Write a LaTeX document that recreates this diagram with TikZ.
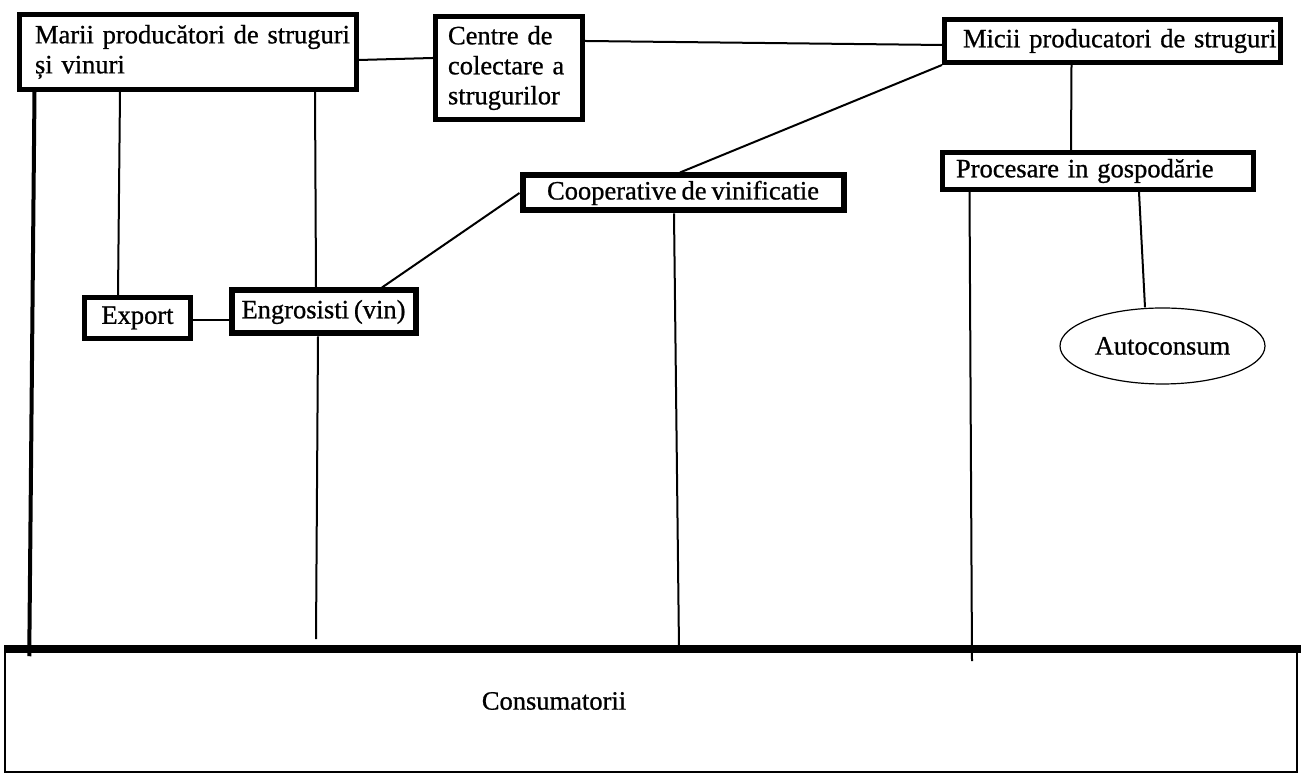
\documentclass[tikz,border=0pt]{standalone}
\usepackage{fontspec}
\setmainfont[FakeBold=0.8, WordSpace=0.75]{Liberation Serif}
\usetikzlibrary{shapes.geometric}
\begin{document}
\begin{tikzpicture}[x=1pt,y=1pt,
  every node/.style={font=\fontsize{26.5}{30}\selectfont},
  box/.style={draw, line width=5pt, rectangle, inner ysep=0pt, inner xsep=0pt},
  leftbox/.style={box, align=left},
  conn/.style={line width=2pt},
  thickconn/.style={line width=4pt}]
\useasboundingbox (0,0) rectangle (1301,775);
\fill[white] (0,0) rectangle (1301,775);

% boxes
\node[leftbox, minimum width=337pt, minimum height=75pt, inner xsep=15.5pt, text width=306pt] (marii) at (188,723)
  {\mbox{Marii producători de struguri}\\și vinuri};
\node[leftbox, minimum width=147pt, minimum height=103pt, inner xsep=12.5pt, text width=122pt] (centre) at (509,707)
  {Centre de\\colectare a\\strugurilor};
\node[leftbox, minimum width=336pt, minimum height=43pt, inner xsep=18.5pt, text width=299pt] (micii) at (1112.5,734)
  {\mbox{Micii producatori de struguri}};
\node[leftbox, minimum width=311pt, minimum height=37pt, inner xsep=13.5pt, text width=284pt] (proc) at (1098,604)
  {Procesare in gospodărie};
\node[box, line width=6pt, minimum width=321pt, minimum height=35pt] (coop) at (683,582)
  {Cooperative de vinificatie};
\node[box, minimum width=106pt, minimum height=41pt] (export) at (137.5,457) {Export};
\node[box, line width=6pt, minimum width=184pt, minimum height=43pt] (engros) at (323.5,463) {Engrosisti (vin)};
\node[draw, ellipse, line width=1.2pt, inner sep=0pt, minimum width=205pt, minimum height=76pt] (auto) at (1162.5,429) {Autoconsum};

% consumers
\node[draw, rectangle, line width=1.5pt, minimum width=1292pt, minimum height=122pt, inner sep=0pt] (cons) at (651,64) {};
\node (constext) at (554,74) {Consumatorii};
\draw[line width=8pt] (cons.north west) -- ([xshift=4pt]cons.north east);

% connectors
\draw[conn] ([yshift=-8pt]marii.east) -- ([yshift=10pt]centre.west);
\draw[conn] ([yshift=27pt]centre.east) -- ([yshift=-4pt]micii.west);
\draw[conn] (micii.south west) -- ([xshift=-3pt]coop.north);
\draw[conn] ([xshift=-41pt]micii.south) -- ([xshift=-27pt]proc.north);
\draw[conn] (coop.west) -- ([xshift=58.5pt]engros.north);
\draw[conn] ([yshift=-2pt]export.east) -- ([yshift=-8pt]engros.west);
\draw[conn] ([xshift=-68pt]marii.south) -- ([xshift=-19.5pt]export.north);
\draw[conn] ([xshift=127pt]marii.south) -- ([xshift=-7.5pt]engros.north);
\draw[thickconn] ([xshift=17.5pt]marii.south west) -- ([xshift=25pt,yshift=-7pt]cons.north west);
\draw[conn] ([xshift=-5.5pt]engros.south) -- ([xshift=-335pt,yshift=10pt]cons.north);
\draw[conn] ([xshift=-9pt]coop.south) -- ([xshift=28pt]cons.north);
\draw[conn] ([xshift=29.5pt]proc.south west) -- ([xshift=321pt,yshift=-12pt]cons.north);
\draw[conn] ([xshift=41pt]proc.south) -- ([xshift=-17.5pt]auto.north);
\end{tikzpicture}
\end{document}
